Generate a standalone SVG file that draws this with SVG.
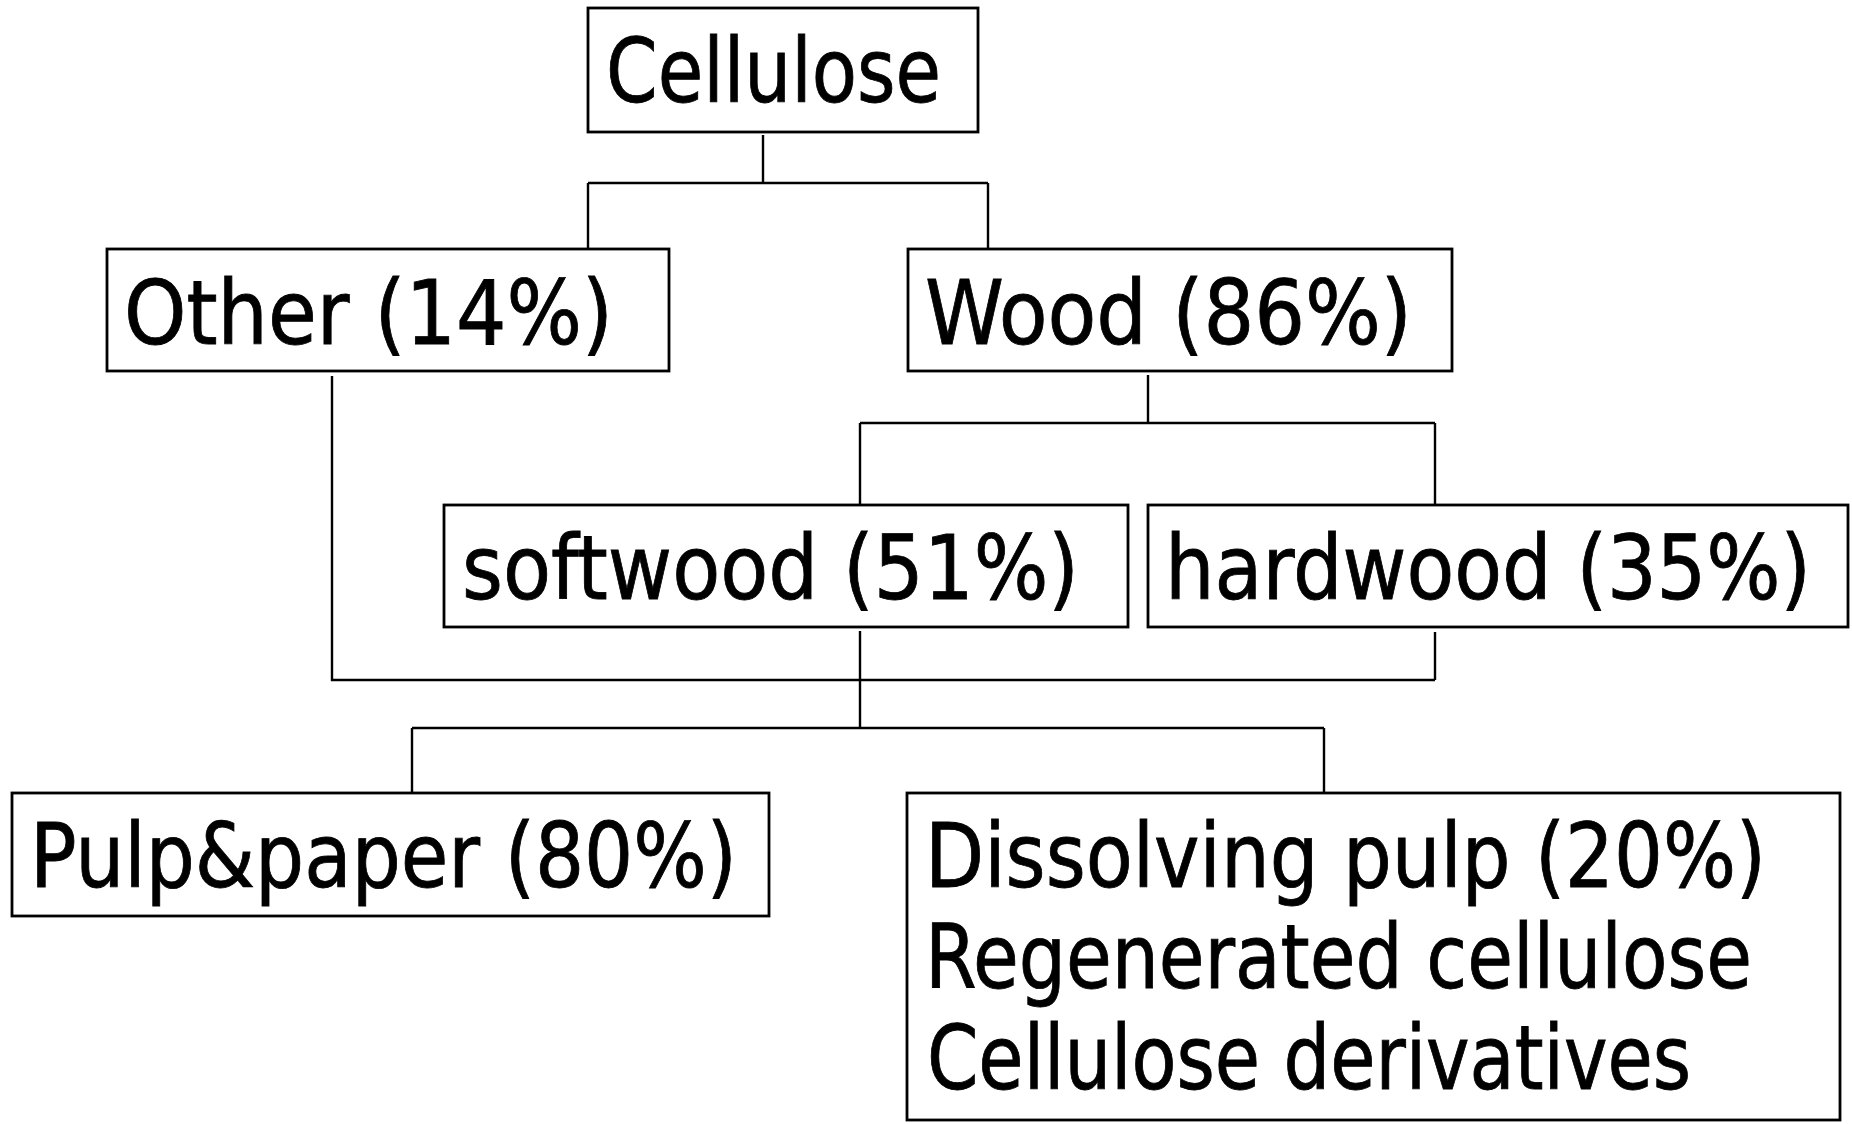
<svg xmlns="http://www.w3.org/2000/svg" width="1852" height="1124" viewBox="0 0 1852 1124">
<style>
.box{fill:#fff;stroke:#000;stroke-width:2.8}
.lbl{font-family:"DejaVu Sans Condensed","DejaVu Sans","Liberation Sans",sans-serif;font-stretch:condensed;font-size:89px;fill:#000;stroke:#000;stroke-width:0.8}
.con{fill:none;stroke:#000;stroke-width:2.4}
</style>
<rect width="1852" height="1124" fill="#fff"/>
<g id="connectors" class="con">
<path d="M763 135V183M588 183H988M588 183V248M988 183V248"/>
<path d="M1148 375V423M860 423H1435M860 423V504M1435 423V504"/>
<path d="M332 376V680H1435M1435 632V680M860 631V728"/>
<path d="M412 728H1324M412 728V792M1324 728V792"/>
</g>
<g id="cellulose"><rect class="box" x="588" y="8" width="390" height="124"/><text class="lbl" x="606" y="102" textLength="335" lengthAdjust="spacingAndGlyphs">Cellulose</text></g>
<g id="other"><rect class="box" x="107" y="249" width="562" height="122"/><text class="lbl" x="124" y="344" textLength="489" lengthAdjust="spacingAndGlyphs">Other (14%)</text></g>
<g id="wood"><rect class="box" x="908" y="249" width="544" height="122"/><text class="lbl" x="925" y="344" textLength="487" lengthAdjust="spacingAndGlyphs">Wood (86%)</text></g>
<g id="softwood"><rect class="box" x="444" y="505" width="684" height="122"/><text class="lbl" x="462" y="599" textLength="617" lengthAdjust="spacingAndGlyphs">softwood (51%)</text></g>
<g id="hardwood"><rect class="box" x="1148" y="505" width="700" height="122"/><text class="lbl" x="1165" y="599" textLength="646" lengthAdjust="spacingAndGlyphs">hardwood (35%)</text></g>
<g id="pulp"><rect class="box" x="12" y="793" width="757" height="123"/><text class="lbl" x="30" y="887" textLength="707" lengthAdjust="spacingAndGlyphs">Pulp&amp;paper (80%)</text></g>
<g id="dissolving"><rect class="box" x="907" y="793" width="933" height="327"/>
<text class="lbl" x="925" y="887" textLength="841" lengthAdjust="spacingAndGlyphs">Dissolving pulp (20%)</text>
<text class="lbl" x="925" y="988" textLength="827" lengthAdjust="spacingAndGlyphs">Regenerated cellulose</text>
<text class="lbl" x="927" y="1089" textLength="764" lengthAdjust="spacingAndGlyphs">Cellulose derivatives</text></g>
</svg>
